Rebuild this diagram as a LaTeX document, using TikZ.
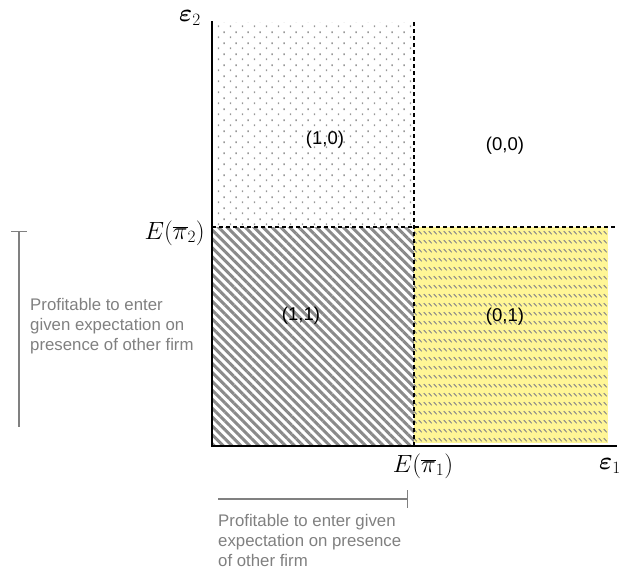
\documentclass[tikz,border=0pt]{standalone}
\usepackage{fontspec}
\usepackage{bm}
\newfontfamily\arial{Liberation Sans}
\usetikzlibrary{patterns,patterns.meta}
\definecolor{hatchgrey}{HTML}{8A8A8A}
\definecolor{dotgrey}{HTML}{989898}
\definecolor{softyellow}{RGB}{255,246,150}
\definecolor{notegrey}{HTML}{808080}
\tikzdeclarepattern{
  name=dotgrid,
  type=uncolored,
  bounding box={(0pt,0pt) and (12pt,11pt)},
  tile size={(12pt,11pt)},
  code={
    \fill (2pt,2pt) rectangle (3.5pt,4pt);
    \fill (8pt,7.5pt) rectangle (9.5pt,9.5pt);
  }
}
\tikzdeclarepattern{
  name=yslash,
  type=uncolored,
  bounding box={(0pt,0pt) and (5.3pt,9pt)},
  tile size={(5.3pt,9pt)},
  code={
    \draw[line width=1.1pt] (0.8pt,6.5pt) -- (4.3pt,3pt);
  }
}
\begin{document}
\begin{tikzpicture}[x=1pt,y=-1pt,
  axis/.style={line width=2.6pt,black},
  dashline/.style={line width=1.5pt,black,dash pattern=on 4pt off 3pt},
  note/.style={line width=2pt,notegrey},
  region/.style={font=\arial\fontsize{18.5}{22}\selectfont,inner sep=0pt},
  notetext/.style={font=\arial\fontsize{16.8}{20.3}\selectfont,text=notegrey,align=left,inner sep=0pt},
  mathlabel/.style={font=\fontsize{25}{29}\selectfont,inner sep=0pt}
]
\useasboundingbox (0,0) rectangle (630,579);
% regions
\fill[pattern=dotgrid, pattern color=dotgrey] (213,22) rectangle (414,227);
\fill[pattern={Lines[angle=-45,distance=6.3pt,line width=3pt]}, pattern color=hatchgrey] (213,227) rectangle (414,446);
\fill[softyellow] (414,227) rectangle (608,443);
\fill[pattern=yslash, pattern color=hatchgrey] (414,227) rectangle (608,443);
% coordinates
\coordinate (Ytop) at (212,21);
\coordinate (O) at (212,446);
\coordinate (Xend) at (617,446);
\coordinate (Dtop) at (414,22);
\coordinate (Dbot) at (414,446);
\coordinate (Hl) at (212,227);
\coordinate (Hr) at (615,227);
% lines
\draw[dashline] (Dtop) -- (Dbot);
\draw[dashline] (Hl) -- (Hr);
\draw[axis] (Ytop) -- (O) -- (Xend);
% region labels
\node[region] (r10) at (325,140) {(1,0)};
\node[region] (r00) at (505,146) {(0,0)};
\node[region] (r11) at (301,316) {(1,1)};
\node[region] (r01) at (505,317) {(0,1)};
% axis labels
\node[mathlabel] (e2) at (190,18) {$\bm{\varepsilon}_2$};
\node[mathlabel] (e1) at (610,466) {$\bm{\varepsilon}_1$};
\node[mathlabel,anchor=east] (Epi2) at (205,233) {$E\bigl(\overline{\pi}_2\bigr)$};
\node[mathlabel] (Epi1) at (423,466) {$E(\overline{\pi}_1)$};
% annotations
\coordinate (La) at (19,231);
\coordinate (Lb) at (19,427);
\coordinate (Lt1) at (11,231);
\coordinate (Lt2) at (27,231);
\draw[note] (La) -- (Lb);
\draw[note,line width=1pt] (Lt1) -- (Lt2);
\node[notetext,anchor=north west] (ltext) at (30,298) {Profitable to enter\\given expectation on\\presence of other firm};
\coordinate (Ba) at (218,499);
\coordinate (Bb) at (407,499);
\coordinate (Bt1) at (407,490);
\coordinate (Bt2) at (407,508);
\draw[note] (Ba) -- (Bb);
\draw[note,line width=1pt] (Bt1) -- (Bt2);
\node[notetext,anchor=north west] (btext) at (218,514) {Profitable to enter given\\expectation on presence\\of other firm};
\end{tikzpicture}
\end{document}
